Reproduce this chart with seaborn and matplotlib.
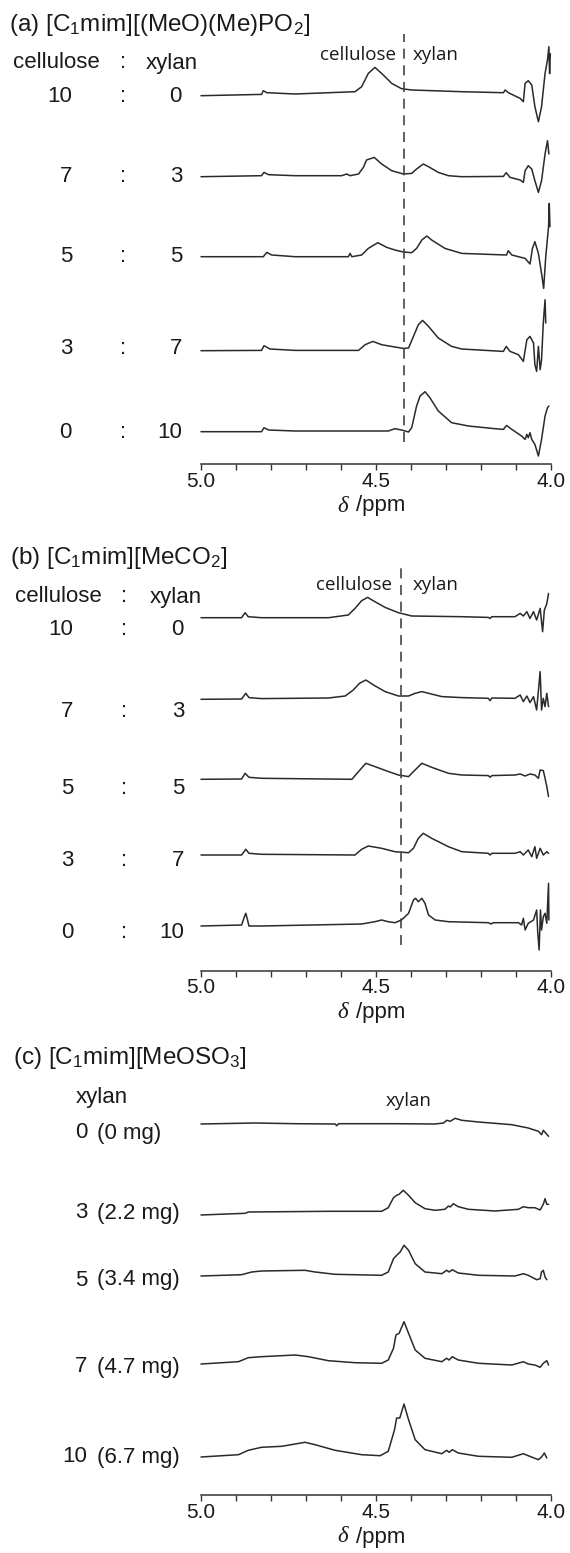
import numpy as np
import pandas as pd
import matplotlib
matplotlib.use("Agg")
import matplotlib.pyplot as plt
import seaborn as sns

# ---------------------------------------------------------------------------
# Spectra: chemical shift (ppm) and intensity above each trace's baseline
# ---------------------------------------------------------------------------
# (a) [C1mim][(MeO)(Me)PO2], cellulose : xylan
ppm_a_10_0 = [5.0, 4.827, 4.822, 4.812, 4.731, 4.560, 4.541, 4.522, 4.503, 4.484, 4.455, 4.427,
              4.398, 4.255, 4.136, 4.131, 4.122, 4.088, 4.079, 4.074, 4.065, 4.055, 4.046, 4.036,
              4.027, 4.017, 4.010, 4.006, 4.004, 4.002]
int_a_10_0 = [0, 1.3, 5.0, 3.0, 1.7, 4.0, 9.0, 22.3, 28.3, 22.3, 12.3, 7.0,
              5.7, 4.0, 3.0, 5.7, 3.0, -2.7, -6.0, 12.3, 15.0, 10.7, -11.0, -26.0,
              -11.0, 22.3, 35.7, 49.0, 22.0, 42.0]

ppm_a_7_3 = [5.0, 4.827, 4.820, 4.807, 4.731, 4.598, 4.584, 4.574, 4.550, 4.536, 4.527, 4.505,
             4.484, 4.455, 4.422, 4.398, 4.384, 4.365, 4.350, 4.322, 4.293, 4.255, 4.136, 4.128,
             4.117, 4.088, 4.079, 4.074, 4.065, 4.055, 4.046, 4.036, 4.027, 4.017, 4.010, 4.006]
int_a_7_3 = [0, 1.0, 4.3, 2.0, 1.0, 1.0, 2.7, 1.0, 2.7, 9.3, 16.7, 19.3,
             12.7, 6.0, 2.7, 3.3, 7.7, 12.7, 10.0, 4.3, 1.0, 0.0, 0.3, 4.0,
             -0.7, -3.3, -5.7, 6.0, 11.0, 7.7, -4.0, -15.7, -4.0, 22.7, 36.0, 22.7]

ppm_a_5_5 = [5.0, 4.822, 4.812, 4.798, 4.731, 4.579, 4.574, 4.569, 4.541, 4.522, 4.495, 4.469,
             4.446, 4.422, 4.398, 4.384, 4.369, 4.355, 4.341, 4.303, 4.255, 4.127, 4.122, 4.112,
             4.074, 4.060, 4.053, 4.046, 4.036, 4.027, 4.021, 4.015, 4.007, 4.005, 4.003]
int_a_5_5 = [0, 0, 4.3, 1.7, 0, 0, 3.3, 0, 1.7, 8.3, 14.0, 9.3,
             6.7, 4.7, 4.0, 8.3, 16.7, 20.7, 16.7, 8.3, 3.3, 1.7, 6.0, 1.7,
             -1.7, -7.3, 8.3, 15.0, 3.3, -16.7, -31.7, 0, 30.0, 53.3, 30.0]

ppm_a_3_7 = [5.0, 4.827, 4.820, 4.803, 4.731, 4.550, 4.531, 4.509, 4.484, 4.446, 4.422, 4.407,
             4.393, 4.379, 4.367, 4.350, 4.322, 4.284, 4.255, 4.136, 4.128, 4.117, 4.093, 4.079,
             4.069, 4.060, 4.050, 4.046, 4.041, 4.036, 4.031, 4.027, 4.022, 4.017, 4.015]
int_a_3_7 = [0, 0.3, 5.0, 1.7, 0.3, 0.3, 6.0, 9.3, 6.0, 3.7, 2.3, 2.7,
             14.3, 26.0, 30.3, 24.3, 12.7, 4.3, 1.7, -0.7, 4.3, -0.7, -4.0, -10.7,
             11.0, 14.3, 7.7, -14.0, -20.7, 4.3, -19.0, -9.0, 27.7, 51.0, 27.7]

ppm_a_0_10 = [5.0, 4.827, 4.820, 4.807, 4.731, 4.465, 4.446, 4.427, 4.407, 4.398, 4.384, 4.374,
              4.360, 4.346, 4.322, 4.284, 4.236, 4.160, 4.136, 4.127, 4.112, 4.084, 4.074, 4.069,
              4.065, 4.060, 4.055, 4.046, 4.036, 4.027, 4.017, 4.010, 4.006]
int_a_0_10 = [0, 0, 4.0, 1.7, 0.7, 0.7, 3.0, 1.7, -0.3, 4.0, 25.7, 35.7,
              40.0, 34.0, 20.7, 9.0, 5.7, 3.0, 2.3, 6.3, 2.3, -4.3, -7.7, -2.7,
              -6.0, -1.0, -7.7, -12.7, -24.3, -7.7, 15.7, 24.0, 25.7]

# (b) [C1mim][MeCO2], cellulose : xylan
ppm_b_10_0 = [5.0, 4.884, 4.874, 4.865, 4.827, 4.636, 4.579, 4.560, 4.541, 4.524, 4.503, 4.474,
              4.436, 4.398, 4.255, 4.179, 4.174, 4.169, 4.103, 4.088, 4.079, 4.069, 4.060, 4.050,
              4.041, 4.031, 4.024, 4.019, 4.012, 4.007]
int_b_10_0 = [0, 0, 5.0, 1.0, 0, 0, 2.7, 9.3, 17.0, 20.3, 16.0, 10.3,
              5.0, 1.7, 1.0, 0.3, -0.7, 1.0, 1.0, 4.3, 1.7, 6.0, -0.7, 6.0,
              -2.3, 9.3, -14.0, 7.7, 14.0, 24.3]

ppm_b_7_3 = [5.0, 4.884, 4.872, 4.863, 4.827, 4.636, 4.588, 4.565, 4.547, 4.529, 4.507, 4.474,
             4.436, 4.407, 4.388, 4.369, 4.350, 4.312, 4.255, 4.179, 4.174, 4.169, 4.103, 4.088,
             4.079, 4.069, 4.060, 4.050, 4.041, 4.031, 4.027, 4.022, 4.017, 4.012, 4.007]
int_b_7_3 = [0, 0.3, 6.0, 1.7, 0.7, 1.3, 3.3, 9.3, 16.0, 19.3, 14.3, 7.7,
             3.3, 3.3, 6.0, 7.7, 6.0, 2.7, 1.7, 1.0, -1.3, 1.3, 1.0, 4.3,
             -2.3, 3.3, -3.3, 2.7, -10.7, 27.7, -10.7, 1.0, -7.3, 6.0, -7.3]

ppm_b_5_5 = [5.0, 4.884, 4.874, 4.863, 4.827, 4.569, 4.550, 4.529, 4.503, 4.469, 4.436, 4.407,
             4.393, 4.369, 4.341, 4.293, 4.255, 4.179, 4.174, 4.169, 4.103, 4.088, 4.074, 4.060,
             4.046, 4.036, 4.031, 4.022, 4.017, 4.012, 4.007]
int_b_5_5 = [0, 0.3, 6.0, 2.0, 1.0, 0, 7.7, 16.0, 12.7, 8.3, 4.3, 2.7,
             7.7, 16.0, 12.0, 6.0, 4.3, 3.7, 2.0, 3.7, 4.3, 5.3, 3.3, 5.3,
             4.3, 1.0, 9.3, 8.7, 1.0, -7.3, -17.3]

ppm_b_3_7 = [5.0, 4.884, 4.872, 4.863, 4.827, 4.560, 4.541, 4.522, 4.484, 4.446, 4.407, 4.393,
             4.379, 4.365, 4.341, 4.293, 4.255, 4.179, 4.174, 4.169, 4.103, 4.088, 4.079, 4.065,
             4.055, 4.046, 4.041, 4.031, 4.022, 4.012, 4.007]
int_b_3_7 = [0, 0, 5.7, 1.7, 0.7, 0, 5.7, 9.0, 6.7, 3.3, 2.3, 6.7,
             16.7, 21.7, 16.7, 8.3, 3.3, 1.7, 0, 1.7, 1.7, 3.3, 0, 5.0,
             -1.7, 8.3, -3.3, 6.7, 0, 3.3, 1.7]

ppm_b_0_10 = [5.0, 4.884, 4.876, 4.872, 4.867, 4.863, 4.827, 4.541, 4.503, 4.484, 4.465, 4.446,
              4.427, 4.407, 4.393, 4.387, 4.379, 4.369, 4.360, 4.350, 4.331, 4.293, 4.179, 4.171,
              4.165, 4.093, 4.084, 4.079, 4.074, 4.065, 4.050, 4.041, 4.038, 4.034, 4.030, 4.027,
              4.022, 4.017, 4.012, 4.007, 4.006]
int_b_0_10 = [0, 1.0, 9.3, 12.7, 6.0, 0, 0, 2.0, 4.3, 6.0, 4.3, 3.3,
              6.0, 12.7, 26.0, 27.7, 24.3, 27.7, 22.7, 11.0, 6.0, 4.3, 3.3, 2.0,
              3.3, 3.3, 1.0, 7.7, -4.0, 2.7, 6.0, 16.0, -5.7, -24.0, 16.0, -4.0,
              9.3, 12.7, 2.7, 42.7, 6.0]

# (c) [C1mim][MeOSO3], xylan only
ppm_c_0 = [5.0, 4.846, 4.731, 4.617, 4.612, 4.607, 4.446, 4.331, 4.307, 4.298, 4.288, 4.274,
           4.255, 4.207, 4.112, 4.065, 4.036, 4.027, 4.022, 4.017, 4.007]
int_c_0 = [0, 1.0, 0.3, 0, -1.7, 0.3, 0.3, 0, 1.0, 3.7, 2.7, 5.7,
           3.7, 2.0, -0.7, -4.0, -7.3, -10.7, -6.3, -8.3, -12.3]

ppm_c_3 = [5.0, 4.874, 4.865, 4.636, 4.484, 4.465, 4.450, 4.441, 4.434, 4.422, 4.407, 4.388,
           4.360, 4.331, 4.303, 4.293, 4.288, 4.279, 4.265, 4.236, 4.160, 4.093, 4.079, 4.065,
           4.046, 4.031, 4.022, 4.017, 4.012, 4.007]
int_c_3 = [0, 1.7, 3.0, 3.7, 3.7, 7.3, 17.3, 19.7, 20.7, 24.7, 19.7, 12.3,
           6.3, 4.7, 5.7, 9.0, 8.0, 11.3, 8.3, 5.7, 4.0, 5.7, 8.3, 7.3,
           7.3, 5.0, 10.7, 16.3, 10.7, 10.7]

ppm_c_5 = [5.0, 4.884, 4.855, 4.827, 4.703, 4.674, 4.617, 4.484, 4.465, 4.450, 4.441, 4.431,
           4.420, 4.407, 4.388, 4.360, 4.312, 4.298, 4.291, 4.282, 4.265, 4.207, 4.103, 4.079,
           4.065, 4.041, 4.031, 4.027, 4.022, 4.017, 4.012]
int_c_5 = [0, 1.3, 4.0, 5.0, 5.7, 4.0, 1.7, 0.7, 4.0, 17.3, 20.7, 24.0,
           30.7, 25.7, 12.3, 4.0, 2.3, 5.7, 4.0, 6.3, 3.0, 0.7, 0, 2.3,
           0.7, -3.7, -2.7, 4.0, 5.7, -1.0, -3.7]

ppm_c_7 = [5.0, 4.893, 4.865, 4.827, 4.731, 4.693, 4.636, 4.560, 4.484, 4.465, 4.450, 4.443,
           4.434, 4.420, 4.407, 4.388, 4.360, 4.312, 4.298, 4.291, 4.282, 4.265, 4.207, 4.112,
           4.079, 4.065, 4.046, 4.031, 4.022, 4.012, 4.007]
int_c_7 = [0, 2.3, 6.3, 7.3, 9.0, 7.3, 3.3, 1.3, 0.7, 4.0, 15.7, 29.0,
           30.7, 42.3, 30.7, 14.0, 5.7, 2.3, 5.7, 4.0, 7.3, 4.0, 0.7, -1.0,
           2.3, 0, -1.0, -3.3, 0.7, 3.3, -1.0]

ppm_c_10 = [5.0, 4.893, 4.865, 4.827, 4.769, 4.731, 4.703, 4.674, 4.617, 4.541, 4.488, 4.465,
            4.447, 4.441, 4.432, 4.420, 4.407, 4.388, 4.360, 4.312, 4.298, 4.291, 4.282, 4.265,
            4.207, 4.112, 4.079, 4.065, 4.036, 4.027, 4.019, 4.012]
int_c_10 = [0, 2.3, 6.7, 9.7, 10.7, 13.0, 14.7, 12.3, 6.7, 2.3, 1.3, 5.7,
            27.3, 39.0, 39.0, 53.0, 37.3, 17.3, 7.3, 3.3, 6.7, 4.7, 7.3, 4.0,
            0.7, -0.3, 3.3, 1.3, -2.7, 0, 4.0, -1.0]

# Sample labels
ratio_cellulose = ["10", "7", "5", "3", "0"]
ratio_xylan = ["0", "3", "5", "7", "10"]
xylan_amount = ["0", "3", "5", "7", "10"]
xylan_mass = ["(0 mg)", "(2.2 mg)", "(3.4 mg)", "(4.7 mg)", "(6.7 mg)"]

tick_values = [5.0, 4.5, 4.0]
tick_labels = ["5.0", "4.5", "4.0"]
minor_tick_values = [4.9, 4.8, 4.7, 4.6, 4.4, 4.3, 4.2, 4.1]

# boundary between the cellulose and xylan anomeric regions
divider_a_ppm = 4.42
divider_b_ppm = 4.43

# ---------------------------------------------------------------------------
sns.set_style("white")
plt.rcParams["font.family"] = ["Liberation Sans", "DejaVu Sans"]
plt.rcParams["mathtext.fontset"] = "custom"
plt.rcParams["mathtext.rm"] = "Liberation Sans"
plt.rcParams["mathtext.it"] = "Liberation Sans:italic"
plt.rcParams["mathtext.bf"] = "Liberation Sans:bold"

W, H = 570, 1553
fig = plt.figure(figsize=(W / 100, H / 100), dpi=100)
fig.patch.set_facecolor("white")

LINE = "#2a2a2a"
TEXT = "#1a1a1a"
LABEL_FS = 16
TITLE_FS = 17.5
ANNOT_FS = 13.5
ANNOT_FONT = ["Open Sans", "DejaVu Sans"]


def fx(x):
    return x / W


def fy(y):
    return 1 - y / H


def put(x, y, s, **kw):
    kw.setdefault("va", "center")
    kw.setdefault("color", TEXT)
    fig.text(fx(x), fy(y), s, **kw)


def panel(axis_y, top_y, traces, baselines):
    ax = fig.add_axes([fx(201), fy(axis_y), 350 / W, (axis_y - top_y) / H])
    ax.set_xlim(5.0, 4.0)
    ax.set_ylim(0, axis_y - top_y)
    ax.patch.set_alpha(0)
    for (ppm, inten), base in zip(traces, baselines):
        yy = np.asarray(inten, dtype=float) + (axis_y - base)
        sns.lineplot(x=np.asarray(ppm), y=yy, ax=ax, sort=False, estimator=None,
                     color=LINE, lw=1.1, clip_on=False)
    for side in ("top", "left", "right"):
        ax.spines[side].set_visible(False)
    ax.spines["bottom"].set_color("#333333")
    ax.spines["bottom"].set_linewidth(1.1)
    ax.set_yticks([])
    ax.set_xticks(tick_values)
    ax.set_xticklabels(tick_labels)
    ax.set_xticks(minor_tick_values, minor=True)
    ax.tick_params(axis="x", which="both", direction="out", length=4.5, width=1.0,
                   colors="#333333", labelcolor=TEXT, labelsize=15, pad=1.0,
                   bottom=True)
    ax.set_xlabel("")
    ax.set_ylabel("")
    ax.set_xlim(5.0, 4.0)
    # axis title: delta /ppm
    put(348, axis_y + 42, "δ", ha="right", fontsize=16.5, family="Liberation Serif",
        style="italic")
    put(356, axis_y + 42, "/ppm", ha="left", fontsize=16)
    return ax


def divider(ax, ppm, axis_y, top_y, y0, y1):
    span = axis_y - top_y
    ax.axvline(ppm, ymin=(axis_y - y1) / span, ymax=(axis_y - y0) / span,
               color="#444444", lw=1.2, linestyle=(0, (6.0, 4.0)), clip_on=False)


# ---------------- (a) ----------------
a_axis, a_top = 464, 28
a_traces = [(ppm_a_10_0, int_a_10_0), (ppm_a_7_3, int_a_7_3), (ppm_a_5_5, int_a_5_5),
            (ppm_a_3_7, int_a_3_7), (ppm_a_0_10, int_a_0_10)]
a_base = [95.7, 176.7, 256.7, 350.7, 431.7]
a_lab_y = [96, 177, 256, 349, 432]
ax_a = panel(a_axis, a_top, a_traces, a_base)
divider(ax_a, divider_a_ppm, a_axis, a_top, 34, 442)
put(9, 25, r"(a) [C$_\mathregular{1}$mim][(MeO)(Me)PO$_\mathregular{2}$]", ha="left",
    fontsize=TITLE_FS)
put(13, 63, "cellulose", ha="left", fontsize=LABEL_FS)
put(123, 63, ":", ha="center", fontsize=LABEL_FS)
put(146, 63, "xylan", ha="left", fontsize=LABEL_FS)
for yl, lc, rc in zip(a_lab_y, ratio_cellulose, ratio_xylan):
    put(72, yl, lc, ha="right", fontsize=LABEL_FS)
    put(123, yl, ":", ha="center", fontsize=LABEL_FS)
    put(182, yl, rc, ha="right", fontsize=LABEL_FS)
put(358, 55, "cellulose", ha="center", fontsize=ANNOT_FS, family=ANNOT_FONT)
put(436, 55, "xylan", ha="center", fontsize=ANNOT_FS, family=ANNOT_FONT)

# ---------------- (b) ----------------
b_axis, b_top = 970.7, 560
b_traces = [(ppm_b_10_0, int_b_10_0), (ppm_b_7_3, int_b_7_3), (ppm_b_5_5, int_b_5_5),
            (ppm_b_3_7, int_b_3_7), (ppm_b_0_10, int_b_0_10)]
b_base = [617.7, 699.3, 779.3, 855, 926]
b_lab_y = [630, 712, 788, 860, 933]
ax_b = panel(b_axis, b_top, b_traces, b_base)
divider(ax_b, divider_b_ppm, b_axis, b_top, 566, 945)
put(10, 558, r"(b) [C$_\mathregular{1}$mim][MeCO$_\mathregular{2}$]", ha="left",
    fontsize=TITLE_FS)
put(15, 597, "cellulose", ha="left", fontsize=LABEL_FS)
put(124, 597, ":", ha="center", fontsize=LABEL_FS)
put(150, 597, "xylan", ha="left", fontsize=LABEL_FS)
for yl, lc, rc in zip(b_lab_y, ratio_cellulose, ratio_xylan):
    put(73, yl, lc, ha="right", fontsize=LABEL_FS)
    put(124, yl, ":", ha="center", fontsize=LABEL_FS)
    put(184, yl, rc, ha="right", fontsize=LABEL_FS)
put(354, 585, "cellulose", ha="center", fontsize=ANNOT_FS, family=ANNOT_FONT)
put(436, 585, "xylan", ha="center", fontsize=ANNOT_FS, family=ANNOT_FONT)

# ---------------- (c) ----------------
c_axis, c_top = 1495, 1090
c_traces = [(ppm_c_0, int_c_0), (ppm_c_3, int_c_3), (ppm_c_5, int_c_5),
            (ppm_c_7, int_c_7), (ppm_c_10, int_c_10)]
c_base = [1124, 1215, 1276, 1364, 1457]
c_lab_y = [1133, 1213, 1280, 1367, 1457]
ax_c = panel(c_axis, c_top, c_traces, c_base)
put(13, 1058, r"(c) [C$_\mathregular{1}$mim][MeOSO$_\mathregular{3}$]", ha="left",
    fontsize=TITLE_FS)
put(76, 1097, "xylan", ha="left", fontsize=LABEL_FS)
for yl, n, m in zip(c_lab_y, xylan_amount, xylan_mass):
    put(87, yl, n, ha="right", fontsize=LABEL_FS)
    put(97, yl, m, ha="left", fontsize=LABEL_FS)
put(409, 1101, "xylan", ha="center", fontsize=ANNOT_FS, family=ANNOT_FONT)

fig.savefig("out.png", dpi=100, facecolor="white")
